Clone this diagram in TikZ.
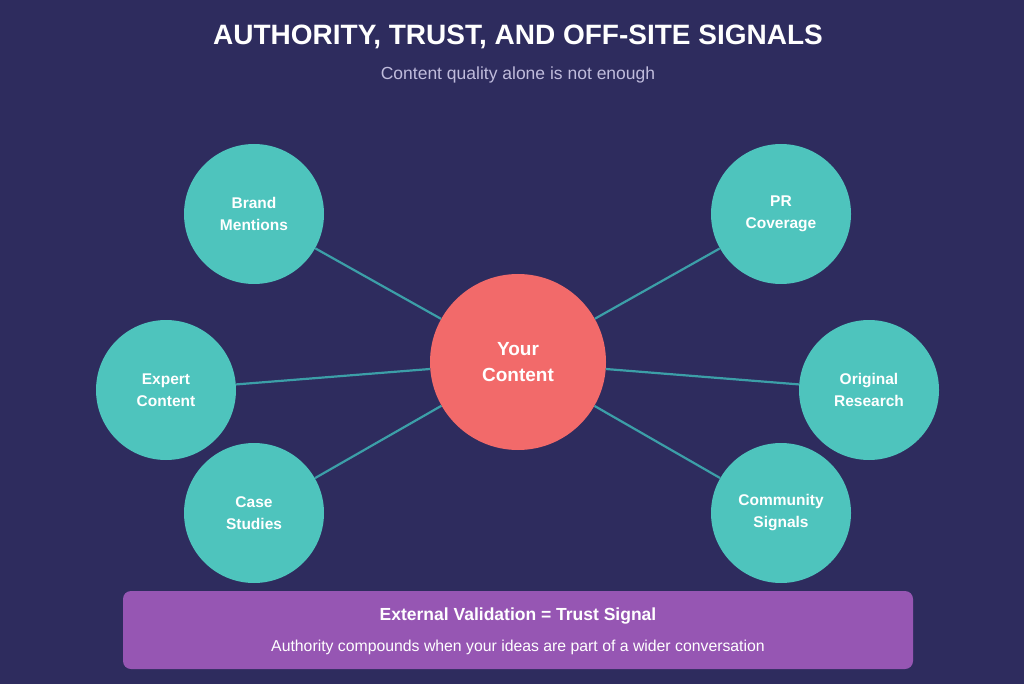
\documentclass[tikz,border=0pt]{standalone}
\usepackage{fontspec}
\setmainfont{Liberation Sans}
\definecolor{bg}{HTML}{2E2C5E}
\definecolor{teal}{HTML}{4EC4BD}
\definecolor{coral}{HTML}{F26A6A}
\definecolor{purp}{HTML}{9656B3}
\definecolor{edge}{HTML}{3C9FA8}
\definecolor{sub}{HTML}{C0BCDC}
\begin{document}
\begin{tikzpicture}[x=1pt,y=-1pt,
  sat/.style={circle,fill=teal,minimum size=140pt,inner sep=0pt,text=white,font=\bfseries\fontsize{15.5}{22}\selectfont,align=center},
  conn/.style={draw=edge,line width=2.2pt}]
\fill[bg] (0,0) rectangle (1024,684);
\useasboundingbox (0,0) rectangle (1024,684);
\node[text=white,font=\bfseries\fontsize{28}{32}\selectfont] (title) at (518,37) {AUTHORITY, TRUST, AND OFF-SITE SIGNALS};
\node[text=sub,font=\fontsize{17.5}{20}\selectfont] (subt) at (518,75) {Content quality alone is not enough};
\node[sat] (b) at (254,214) {Brand\\Mentions};
\node[sat] (p) at (781,214) {PR\\Coverage};
\node[sat] (e) at (166,390) {Expert\\Content};
\node[sat] (o) at (869,390) {Original\\Research};
\node[sat] (c) at (254,513) {Case\\Studies};
\node[sat] (m) at (781,513) {Community\\Signals};
\node[circle,fill=coral,minimum size=176pt,inner sep=0pt,text=white,font=\bfseries\fontsize{19}{26}\selectfont,align=center] (y) at (518,362) {Your\\Content};
\foreach \n in {b,p,e,o,c,m} \draw[conn] (y) -- (\n);
\node[fill=purp,rounded corners=8pt,minimum width=790pt,minimum height=78pt,inner sep=0pt] (box) at (518,630) {};
\node[text=white,font=\bfseries\fontsize{17.5}{20}\selectfont] (bt) at (518,616) {External Validation = Trust Signal};
\node[text=white,font=\fontsize{15.8}{18}\selectfont] (bs) at (518,647) {Authority compounds when your ideas are part of a wider conversation};
\end{tikzpicture}
\end{document}
